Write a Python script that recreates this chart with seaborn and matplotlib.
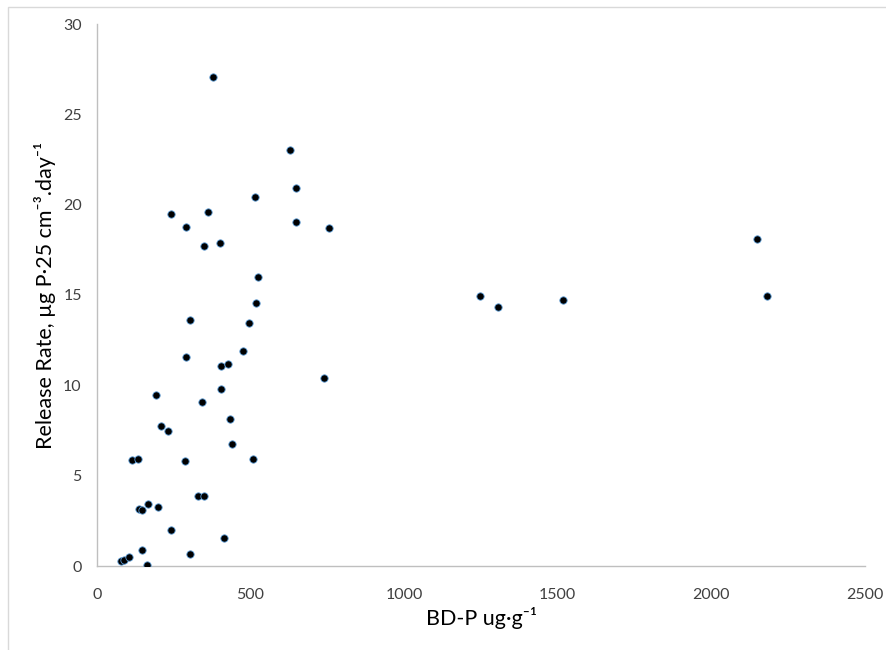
import matplotlib
matplotlib.use("Agg")
import matplotlib.pyplot as plt
import seaborn as sns
import pandas as pd
from matplotlib.patches import Rectangle

# BD-P (ug/g) vs release rate
bd_p = [78, 89, 104, 148, 164, 136, 145, 167, 197, 115, 133, 192, 208, 230, 240,
        285, 291, 304, 304, 328, 349, 342, 405, 405, 412, 428, 432, 441, 475, 495,
        508, 517, 740,
        377, 628, 648, 513, 240, 361, 291, 647, 755, 349, 399, 523,
        1247, 1304, 1517, 2149, 2180]
release_rate = [0.26, 0.33, 0.48, 0.87, 0.04, 3.18, 3.12, 3.42, 3.25, 5.88, 5.95, 9.46, 7.73, 7.45, 2.0,
                5.82, 11.57, 13.62, 0.65, 3.9, 3.9, 9.09, 11.09, 9.78, 1.57, 11.2, 8.11, 6.77, 11.9, 13.47,
                5.95, 14.55, 10.39,
                27.08, 23.05, 20.9, 20.42, 19.5, 19.61, 18.75, 19.03, 18.69, 17.72, 17.89, 16.01,
                14.93, 14.33, 14.72, 18.11, 14.93]

x_ticks = [0, 500, 1000, 1500, 2000, 2500]
y_ticks = [0, 5, 10, 15, 20, 25, 30]

df = pd.DataFrame({"bd_p": bd_p, "rate": release_rate})

sns.set_style("white")
plt.rcParams['font.family'] = ['Lato', 'DejaVu Sans']

fig = plt.figure(figsize=(8.86, 6.5), dpi=100)
ax = fig.add_axes([97 / 886, 1 - 566 / 650, (865 - 97) / 886, (566 - 24) / 650])

sns.scatterplot(data=df, x="bd_p", y="rate", ax=ax, s=28, color="#000000",
                edgecolor="#5b9bd5", linewidth=0.6, zorder=3)

ax.set_xlim(0, 2500)
ax.set_ylim(0, 30)
ax.set_xticks(x_ticks)
ax.set_yticks(y_ticks)

grey = "#bfbfbf"
for side in ["top", "right"]:
    ax.spines[side].set_visible(False)
for side in ["left", "bottom"]:
    ax.spines[side].set_color(grey)
    ax.spines[side].set_linewidth(1.0)
ax.tick_params(axis="x", direction="inout", length=11, width=1, color=grey,
               labelsize=11.5, labelcolor="#404040", pad=10)
ax.tick_params(axis="y", direction="out", length=6, width=1, color=grey,
               labelsize=11.5, labelcolor="#404040", pad=5)

ax.set_xlabel("BD-P ug·g⁻¹", fontsize=15.5, color="#000000", labelpad=4)
ax.set_ylabel("Release Rate, µg P·25 cm⁻³.day⁻¹",
              fontsize=15.5, color="#000000", labelpad=5)

# light chart-area border like the reference
fig.patches.append(Rectangle((8 / 886, -0.02), 1.0, 1 - 7 / 650 + 0.02,
                             transform=fig.transFigure, fill=False,
                             edgecolor="#d9d9d9", linewidth=1.0))

fig.savefig("out.png", dpi=100, facecolor="white")
plt.close(fig)
